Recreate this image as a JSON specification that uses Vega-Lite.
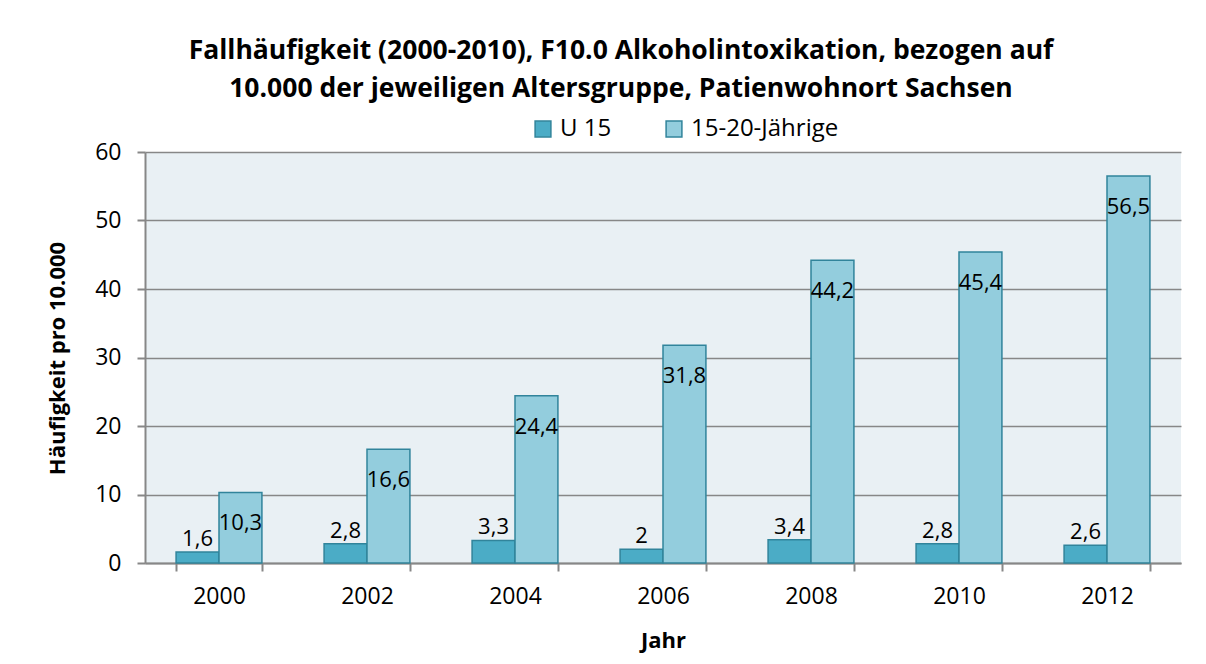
{
  "$schema": "https://vega.github.io/schema/vega-lite/v6.json",
  "autosize": "none",
  "width": 1036,
  "height": 411,
  "padding": {"left": 145, "top": 152, "right": 25, "bottom": 101},
  "background": "white",
  "config": {
    "font": "Open Sans",
    "locale": {"number": {"decimal": ",", "thousands": ".", "grouping": [3], "currency": ["", " €"]}},
    "view": {"fill": "#e9f0f4", "stroke": null},
    "axis": {"labelFont": "Open Sans", "labelFontSize": 23, "labelColor": "#000000", "titleFont": "Open Sans", "titleFontSize": 22, "titleFontWeight": "bold", "titleColor": "#000000", "domainColor": "#878787", "domainWidth": 2, "tickColor": "#878787", "tickWidth": 2, "tickSize": 8, "gridColor": "#878787", "gridWidth": 1.5}
  },
  "title": {
    "text": ["Fallhäufigkeit (2000-2010), F10.0 Alkoholintoxikation, bezogen auf", "10.000 der jeweiligen Altersgruppe, Patienwohnort Sachsen"],
    "font": "Open Sans",
    "fontSize": 26.5,
    "fontWeight": "bold",
    "color": "#000000",
    "anchor": "middle",
    "frame": "group",
    "lineHeight": 38,
    "dx": -42,
    "offset": 15
  },
  "data": {
    "values": [
      {"Jahr": "2000", "Gruppe": "U 15", "Wert": 1.6},
      {"Jahr": "2000", "Gruppe": "15-20-Jährige", "Wert": 10.3},
      {"Jahr": "2002", "Gruppe": "U 15", "Wert": 2.8},
      {"Jahr": "2002", "Gruppe": "15-20-Jährige", "Wert": 16.6},
      {"Jahr": "2004", "Gruppe": "U 15", "Wert": 3.3},
      {"Jahr": "2004", "Gruppe": "15-20-Jährige", "Wert": 24.4},
      {"Jahr": "2006", "Gruppe": "U 15", "Wert": 2},
      {"Jahr": "2006", "Gruppe": "15-20-Jährige", "Wert": 31.8},
      {"Jahr": "2008", "Gruppe": "U 15", "Wert": 3.4},
      {"Jahr": "2008", "Gruppe": "15-20-Jährige", "Wert": 44.2},
      {"Jahr": "2010", "Gruppe": "U 15", "Wert": 2.8},
      {"Jahr": "2010", "Gruppe": "15-20-Jährige", "Wert": 45.4},
      {"Jahr": "2012", "Gruppe": "U 15", "Wert": 2.6},
      {"Jahr": "2012", "Gruppe": "15-20-Jährige", "Wert": 56.5}
    ]
  },
  "encoding": {
    "x": {
      "field": "Jahr", "type": "nominal",
      "scale": {"paddingInner": 0.42, "paddingOuter": 0.21},
      "axis": {"title": "Jahr", "labelAngle": 0, "labelPadding": 14, "tickBand": "extent", "titleY": 77, "titleBaseline": "middle"}
    },
    "xOffset": {"field": "Gruppe", "type": "nominal", "scale": {"domain": ["U 15", "15-20-Jährige"]}},
    "y": {
      "field": "Wert", "type": "quantitative",
      "scale": {"domain": [0, 60]},
      "axis": {"title": "Häufigkeit pro 10.000", "values": [0, 10, 20, 30, 40, 50, 60], "labelPadding": 16, "titleX": -88, "titleY": 206, "titleAngle": -90, "titleAlign": "center", "titleBaseline": "middle"}
    }
  },
  "layer": [
    {
      "mark": {"type": "bar", "stroke": "#31849b", "strokeWidth": 1.5},
      "encoding": {
        "color": {
          "field": "Gruppe", "type": "nominal",
          "scale": {"domain": ["U 15", "15-20-Jährige"], "range": ["#4bacc6", "#93cddd"]},
          "legend": {"title": null, "orient": "none", "direction": "horizontal", "legendX": 386, "legendY": -35, "symbolType": "square", "symbolSize": 250, "symbolStrokeColor": "#31849b", "symbolStrokeWidth": 1.5, "labelFontSize": 24, "labelFont": "Open Sans", "labelColor": "#000000", "columnPadding": 50, "labelOffset": 5, "padding": 0}
        }
      }
    },
    {
      "transform": [{"filter": "datum.Gruppe === 'U 15'"}],
      "mark": {"type": "text", "fontSize": 22, "baseline": "middle", "dy": -13, "color": "#000000"},
      "encoding": {"text": {"field": "Wert", "type": "quantitative", "format": ".1~f"}}
    },
    {
      "transform": [{"filter": "datum.Gruppe === '15-20-Jährige'"}],
      "mark": {"type": "text", "fontSize": 22, "baseline": "middle", "dy": 31, "color": "#000000"},
      "encoding": {"text": {"field": "Wert", "type": "quantitative", "format": ".1~f"}}
    }
  ]
}
